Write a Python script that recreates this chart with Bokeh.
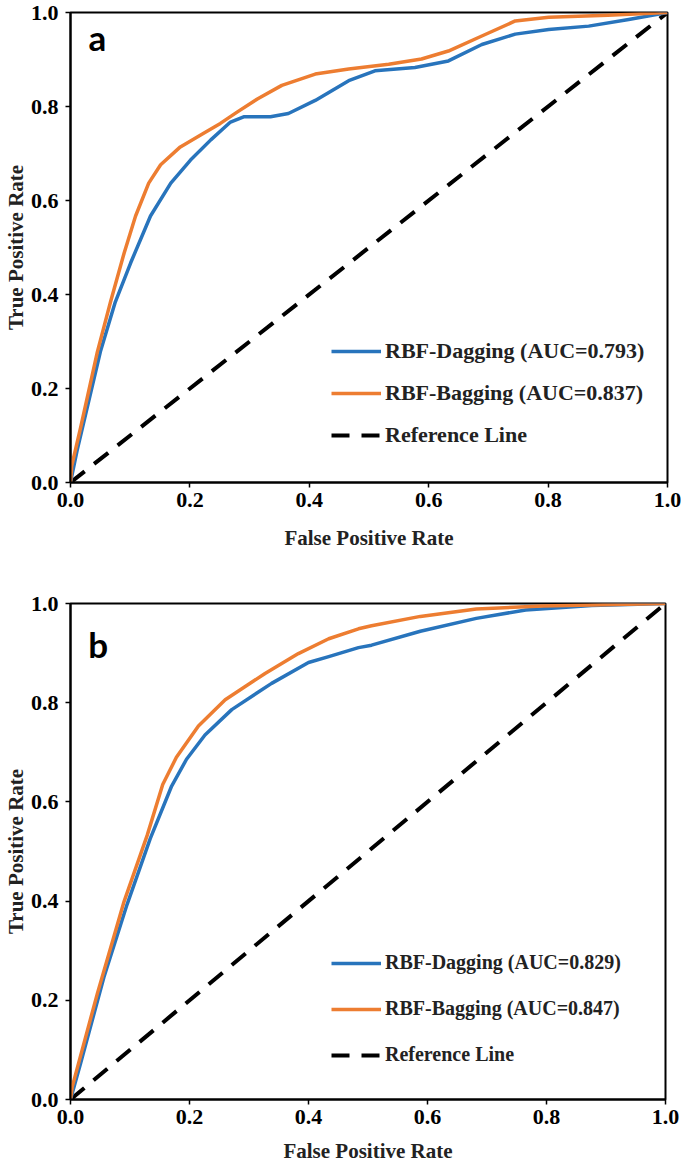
from bokeh.plotting import figure
from bokeh.models import Legend, LegendItem, Label, FixedTicker, NumeralTickFormatter, Range1d
from bokeh.layouts import column
from bokeh.embed import file_html
from bokeh.resources import INLINE

# ---------------- data ----------------
tick_vals = [0.0, 0.2, 0.4, 0.6, 0.8, 1.0]
ref_x = [0.0, 1.0]
ref_y = [0.0, 1.0]

# panel a
a_fpr_dag = [0, 0.011, 0.050, 0.075, 0.101, 0.134, 0.168, 0.201, 0.235, 0.268, 0.290, 0.335,
             0.365, 0.410, 0.466, 0.510, 0.577, 0.633, 0.689, 0.745, 0.801, 0.868, 0.935, 1.0]
a_tpr_dag = [0, 0.068, 0.278, 0.384, 0.468, 0.567, 0.637, 0.686, 0.729, 0.767, 0.778, 0.778,
             0.785, 0.813, 0.855, 0.876, 0.883, 0.897, 0.932, 0.954, 0.964, 0.971, 0.985, 1.0]
a_fpr_bag = [0, 0.002, 0.017, 0.045, 0.067, 0.090, 0.109, 0.131, 0.151, 0.184, 0.223, 0.251, 0.279,
             0.313, 0.354, 0.410, 0.466, 0.533, 0.588, 0.633, 0.689, 0.745, 0.801, 0.900, 1.0]
a_tpr_bag = [0, 0.035, 0.117, 0.278, 0.384, 0.489, 0.567, 0.637, 0.676, 0.714, 0.743, 0.764, 0.788,
             0.816, 0.845, 0.869, 0.880, 0.890, 0.901, 0.918, 0.950, 0.982, 0.990, 0.994, 1.0]
a_auc = ["0.793", "0.837"]

# panel b
b_fpr_dag = [0, 0.017, 0.056, 0.095, 0.134, 0.170, 0.195, 0.226, 0.271, 0.338, 0.400, 0.434,
             0.484, 0.506, 0.588, 0.682, 0.765, 0.876, 1.0]
b_tpr_dag = [0, 0.073, 0.246, 0.393, 0.526, 0.632, 0.686, 0.735, 0.786, 0.839, 0.881, 0.893,
             0.911, 0.916, 0.944, 0.970, 0.987, 0.996, 1.0]
b_fpr_bag = [0, 0.003, 0.045, 0.090, 0.129, 0.155, 0.178, 0.215, 0.260, 0.327, 0.383, 0.434,
             0.484, 0.506, 0.588, 0.682, 0.793, 1.0]
b_tpr_bag = [0, 0.026, 0.213, 0.399, 0.533, 0.635, 0.690, 0.753, 0.806, 0.859, 0.899, 0.929,
             0.949, 0.955, 0.974, 0.989, 0.995, 1.0]
b_auc = ["0.829", "0.847"]

BLUE = "#2874BC"
ORANGE = "#ED7D31"
SERIF = "Liberation Serif"


def make_panel(letter, letter_y, fd, td, fb, tb, auc, frame_w, frame_h,
               b_top, b_bottom, b_right, leg_spacing, leg_y, title_standoff, leg_font):
    p = figure(frame_width=frame_w, frame_height=frame_h,
               x_range=Range1d(0, 1), y_range=Range1d(0, 1),
               output_backend="svg", toolbar_location=None,
               min_border_left=64, min_border_right=b_right,
               min_border_top=b_top, min_border_bottom=b_bottom,
               background_fill_color="white", border_fill_color="white")
    p.grid.visible = False
    p.outline_line_color = "black"
    p.outline_line_width = 2
    p.outline_line_alpha = 1

    for ax in (p.xaxis[0], p.yaxis[0]):
        ax.ticker = FixedTicker(ticks=tick_vals)
        ax.formatter = NumeralTickFormatter(format="0.0")
        ax.axis_line_color = "black"
        ax.axis_line_width = 2
        ax.major_tick_line_color = "black"
        ax.major_tick_line_width = 1.5
        ax.major_tick_out = 5
        ax.major_tick_in = 0
        ax.minor_tick_line_color = None
        ax.major_label_text_font = SERIF
        ax.major_label_text_font_style = "bold"
        ax.major_label_text_font_size = "22px"
        ax.major_label_text_color = "black"
        ax.axis_label_text_font = SERIF
        ax.axis_label_text_font_style = "bold"
        ax.axis_label_text_font_size = "21px"
        ax.axis_label_text_color = "#222222"
    p.xaxis.axis_label = "False Positive Rate"
    p.yaxis.axis_label = "True Positive Rate"
    p.xaxis.major_label_standoff = 5
    p.yaxis.major_label_standoff = 7
    p.xaxis.axis_label_standoff = title_standoff
    p.yaxis.axis_label_standoff = 0

    r_ref = p.line(ref_x, ref_y, line_color="black", line_width=4, line_dash="18 12")
    r_dag = p.line(fd, td, line_color=BLUE, line_width=3.5, line_join="round")
    r_bag = p.line(fb, tb, line_color=ORANGE, line_width=3.5, line_join="round")

    legend = Legend(items=[
        LegendItem(label="RBF-Dagging (AUC=%s)" % auc[0], renderers=[r_dag]),
        LegendItem(label="RBF-Bagging (AUC=%s)" % auc[1], renderers=[r_bag]),
        LegendItem(label="Reference Line", renderers=[r_ref]),
    ], location=(261, leg_y), orientation="vertical",
        background_fill_alpha=0, border_line_alpha=0, padding=0, margin=0,
        spacing=leg_spacing, glyph_width=50, glyph_height=20, label_height=20,
        label_standoff=4, label_text_font=SERIF, label_text_font_style="bold",
        label_text_font_size=leg_font, label_text_color="#222222")
    p.add_layout(legend)

    p.add_layout(Label(x=0.03, y=letter_y, text=letter, text_font="Lato",
                       text_font_style="bold", text_font_size="35px",
                       text_color="black", text_baseline="middle", text_align="left"))
    return p


top = make_panel("a", 0.947, a_fpr_dag, a_tpr_dag, a_fpr_bag, a_tpr_bag, a_auc,
                 597, 470, 12, 108, 14, 16, 34, 16, "22px")
bottom = make_panel("b", 0.918, b_fpr_dag, b_tpr_dag, b_fpr_bag, b_tpr_bag, b_auc,
                    595, 496, 13, 66, 16, 23, 33, 12, "20px")

layout = column(top, bottom, spacing=0)
open("out.html", "w").write(file_html(layout, INLINE))
